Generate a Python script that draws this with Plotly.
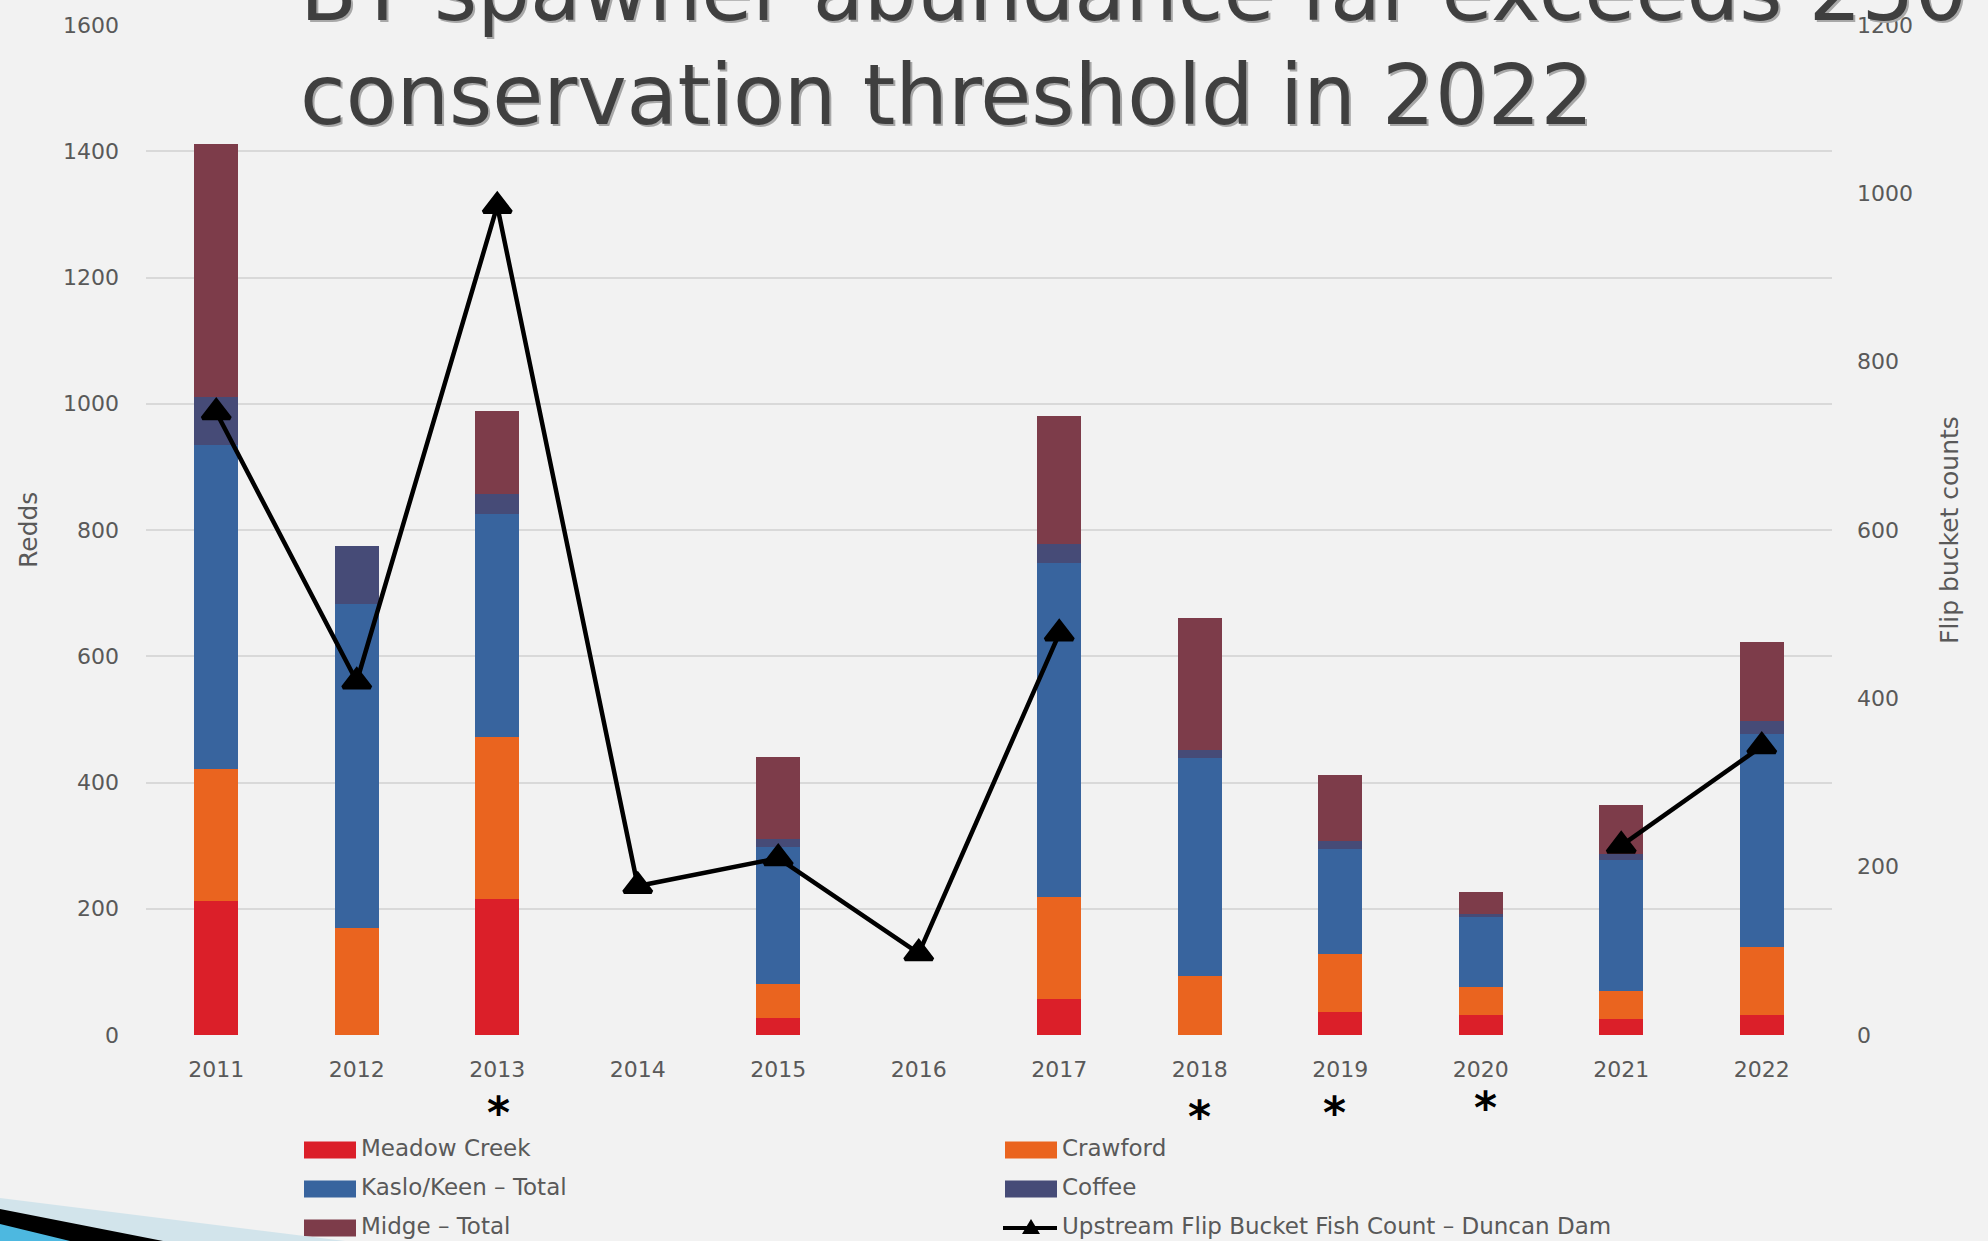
import plotly.graph_objects as go

# ---- data -------------------------------------------------------------
years = ["2011", "2012", "2013", "2014", "2015", "2016",
         "2017", "2018", "2019", "2020", "2021", "2022"]

meadow_creek = [212, None, 215, None, 27, None, 57, None, 37, 32, 25, 32]
crawford = [210, 169, 257, None, 54, None, 161, 94, 92, 44, 44, 108]
kaslo_keen_total = [513, 513, 354, None, 217, None, 530, 345, 165, 111, 208, 337]
coffee = [76, 92, 31, None, 13, None, 30, 13, 13, 5, 10, 20]
midge_total = [400, None, 131, None, 130, None, 202, 208, 105, 35, 77, 125]

flip_bucket_count = [740, 420, 985, 177, 210, 97, 477, None, None, None, 225, 343]

flagged_years = ["2013", "2018", "2019", "2020"]

series_names = ["Meadow Creek", "Crawford", "Kaslo/Keen \u2013 Total", "Coffee", "Midge \u2013 Total"]
line_name = "Upstream Flip Bucket Fish Count \u2013 Duncan Dam"

title_lines = ["BT spawner abundance far exceeds 250", "conservation threshold in 2022"]

# ---- styling ----------------------------------------------------------
colors = ["#db1f29", "#ea641f", "#38649e", "#464b77", "#7d3c4a"]
BG = "#f2f2f2"
TXT = "#595959"
FONT = "DejaVu Sans"

W, H = 1988, 1241
ML, MR, MT, MB = 146, 156, 25, 206
PW, PH = W - ML - MR, H - MT - MB


def px(x):
    return (x - ML) / PW


def py(y):
    return (H - MB - y) / PH


fig = go.Figure()

for name, vals, col in zip(series_names,
                           [meadow_creek, crawford, kaslo_keen_total, coffee, midge_total],
                           colors):
    fig.add_trace(go.Bar(x=years, y=vals, name=name, marker_color=col,
                         marker_line_width=0, showlegend=False))

fig.add_trace(go.Scatter(
    x=years, y=flip_bucket_count, name=line_name, yaxis="y2",
    mode="lines+markers", connectgaps=False, showlegend=False,
    line=dict(color="black", width=4.5),
    marker=dict(symbol="triangle-up", size=24, color="black",
                line=dict(color="black", width=4)),
))

annotations = []
shapes = []

# title (two lines, the first runs off the top of the page)
for txt, yc in zip(title_lines, [-8, 96]):
    annotations.append(dict(text=txt, xref="paper", yref="paper", x=px(298), y=py(yc),
                            xanchor="left", yanchor="middle", showarrow=False,
                            xshift=2, yshift=-2,
                            font=dict(family=FONT, size=83, color="#a8a8a8")))
    annotations.append(dict(text=txt, xref="paper", yref="paper", x=px(298), y=py(yc),
                            xanchor="left", yanchor="middle", showarrow=False,
                            font=dict(family=FONT, size=83, color="#3f3f3f")))

# axis titles
annotations.append(dict(text="Redds", xref="paper", yref="paper", x=px(28), y=py(530),
                        textangle=-90, showarrow=False, xanchor="center", yanchor="middle",
                        font=dict(family=FONT, size=25, color=TXT)))
annotations.append(dict(text="Flip bucket counts", xref="paper", yref="paper", x=px(1949),
                        y=py(530), textangle=-90, showarrow=False, xanchor="center",
                        yanchor="middle", font=dict(family=FONT, size=25, color=TXT)))

# asterisks under flagged years (placed by category index)
star_nudge = {"2013": (1, 1112), "2018": (0, 1116), "2019": (-6, 1112), "2020": (5, 1107)}
for yr in flagged_years:
    dx, yc = star_nudge[yr]
    annotations.append(dict(text="<b>*</b>", xref="x", yref="paper", x=years.index(yr),
                            y=py(yc), xshift=dx, showarrow=False, xanchor="center",
                            yanchor="middle",
                            font=dict(family=FONT, size=44, color="black")))

# legend, two columns x three rows
row_y = [1150, 1189, 1228]
col_x = [304, 1005]
entries = list(zip(series_names, colors)) + [(line_name, None)]
for i, (name, col) in enumerate(entries):
    r, c = divmod(i, 2)
    x0 = col_x[c]
    yc = row_y[r]
    if col is not None:
        shapes.append(dict(type="rect", xref="paper", yref="paper",
                           x0=px(x0), x1=px(x0 + 52), y0=py(yc + 8.5), y1=py(yc - 8.5),
                           fillcolor=col, line_width=0))
    else:
        shapes.append(dict(type="line", xref="paper", yref="paper",
                           x0=px(x0 - 2), x1=px(x0 + 52), y0=py(yc), y1=py(yc),
                           line=dict(color="black", width=4)))
        tx = x0 + 26
        shapes.append(dict(type="path", xref="paper", yref="paper",
                           path=f"M{px(tx - 9)},{py(yc + 6)} L{px(tx + 9)},{py(yc + 6)} "
                                f"L{px(tx)},{py(yc - 9)} Z",
                           fillcolor="black", line_width=0))
    annotations.append(dict(text=name, xref="paper", yref="paper", x=px(x0 + 55), y=py(yc - 2),
                            xanchor="left", yanchor="middle", showarrow=False,
                            font=dict(family=FONT, size=23, color=TXT)))

# slide corner decoration
corner = [
    ("#d2e4eb", [(0, 1198), (345, 1241), (0, 1241)]),
    ("#000000", [(0, 1209), (163, 1241), (0, 1241)]),
    ("#4db8e0", [(0, 1224), (70, 1241), (0, 1241)]),
]
for col, pts in corner:
    path = "M" + " L".join(f"{px(a)},{py(b)}" for a, b in pts) + " Z"
    shapes.append(dict(type="path", xref="paper", yref="paper", path=path,
                       fillcolor=col, line_width=0, layer="above"))

fig.update_layout(
    width=W, height=H,
    margin=dict(l=ML, r=MR, t=MT, b=MB, autoexpand=False),
    paper_bgcolor=BG, plot_bgcolor=BG,
    barmode="stack", bargap=0.685,
    font=dict(family=FONT, color=TXT),
    showlegend=False,
    xaxis=dict(type="category", range=[-0.5, len(years) - 0.5], showgrid=False,
               showline=False, zeroline=False, ticks="",
               tickfont=dict(size=22, color=TXT), ticklabelstandoff=19),
    yaxis=dict(range=[0, 1600], dtick=200, showgrid=True, gridcolor="#d9d9d9", gridwidth=2,
               zeroline=False, showline=False, ticks="",
               tickfont=dict(size=22, color=TXT), ticklabelstandoff=26),
    yaxis2=dict(range=[0, 1200], dtick=200, overlaying="y", side="right", showgrid=False,
                zeroline=False, showline=False, ticks="",
                tickfont=dict(size=22, color=TXT), ticklabelstandoff=24),
    annotations=annotations,
    shapes=shapes,
)

fig.write_html("out.html")
